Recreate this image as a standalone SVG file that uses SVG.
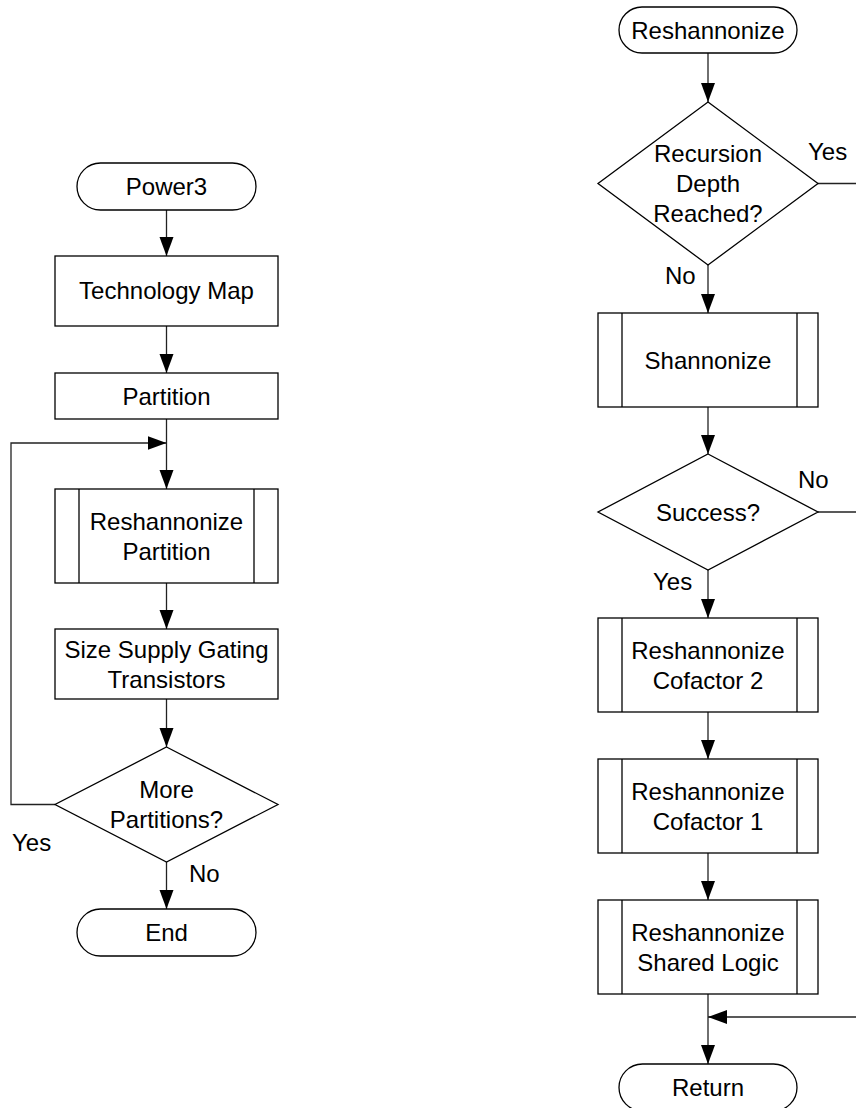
<svg xmlns="http://www.w3.org/2000/svg" width="856" height="1108" viewBox="0 0 856 1108">
<style>
.n{fill:#fff;stroke:#000;stroke-width:1.3}
.il{stroke:#000;stroke-width:1.3;fill:none}
.c{fill:none;stroke:#222;stroke-width:1.3}
text{font-family:"Liberation Sans",Arial,sans-serif;font-size:24px;fill:#000}
.m{text-anchor:middle}
</style>
<defs>
<marker id="ah" markerUnits="userSpaceOnUse" markerWidth="20" markerHeight="16" refX="19" refY="7.5" orient="auto">
<path d="M0,0.5 L19,7.5 L0,14.5 z" fill="#000"/>
</marker>
</defs>
<rect width="856" height="1108" fill="#fff"/>
<g id="connectors">
<line class="c" x1="166.5" y1="210" x2="166.5" y2="256" marker-end="url(#ah)"/>
<line class="c" x1="166.5" y1="326" x2="166.5" y2="373" marker-end="url(#ah)"/>
<line class="c" x1="166.5" y1="419" x2="166.5" y2="489" marker-end="url(#ah)"/>
<polyline class="c" points="55,804.5 11,804.5 11,443 166.5,443" marker-end="url(#ah)"/>
<line class="c" x1="166.5" y1="583" x2="166.5" y2="629" marker-end="url(#ah)"/>
<line class="c" x1="166.5" y1="699" x2="166.5" y2="747" marker-end="url(#ah)"/>
<line class="c" x1="166.5" y1="862" x2="166.5" y2="909" marker-end="url(#ah)"/>
<line class="c" x1="708" y1="53" x2="708" y2="102" marker-end="url(#ah)"/>
<line class="c" x1="708" y1="265" x2="708" y2="313" marker-end="url(#ah)"/>
<line class="c" x1="818" y1="183.5" x2="860" y2="183.5"/>
<line class="c" x1="708" y1="407" x2="708" y2="454" marker-end="url(#ah)"/>
<line class="c" x1="818" y1="512" x2="860" y2="512"/>
<line class="c" x1="708" y1="570" x2="708" y2="618" marker-end="url(#ah)"/>
<line class="c" x1="708" y1="712" x2="708" y2="759" marker-end="url(#ah)"/>
<line class="c" x1="708" y1="853" x2="708" y2="900" marker-end="url(#ah)"/>
<line class="c" x1="708" y1="994" x2="708" y2="1064" marker-end="url(#ah)"/>
<line class="c" x1="860" y1="1017" x2="708" y2="1017" marker-end="url(#ah)"/>
<text x="12" y="851">Yes</text>
<text x="189" y="882">No</text>
<text x="808" y="160">Yes</text>
<text x="665" y="284">No</text>
<text x="798" y="488">No</text>
<text x="653" y="590">Yes</text>
</g>
<g id="power3">
<rect class="n" x="77" y="163" width="179" height="47" rx="23.5"/>
<text class="m" x="166.5" y="195">Power3</text>
</g>
<g id="techmap">
<rect class="n" x="55" y="256" width="223" height="70"/>
<text class="m" x="166.5" y="299">Technology Map</text>
</g>
<g id="partition">
<rect class="n" x="55" y="373" width="223" height="46"/>
<text class="m" x="166.5" y="404.5">Partition</text>
</g>
<g id="reshPartition">
<rect class="n" x="55" y="489" width="223" height="94"/>
<line class="il" x1="79" y1="489" x2="79" y2="583"/>
<line class="il" x1="254" y1="489" x2="254" y2="583"/>
<text class="m" x="166.5" y="529.5">Reshannonize</text>
<text class="m" x="166.5" y="559.5">Partition</text>
</g>
<g id="sizeSupply">
<rect class="n" x="55" y="629" width="223" height="70"/>
<text class="m" x="166.5" y="657.5">Size Supply Gating</text>
<text class="m" x="166.5" y="687.5">Transistors</text>
</g>
<g id="morePartitions">
<polygon class="n" points="166.5,747 278,804.5 166.5,862 55,804.5"/>
<text class="m" x="166.5" y="798">More</text>
<text class="m" x="166.5" y="828">Partitions?</text>
</g>
<g id="end">
<rect class="n" x="77" y="909" width="179" height="47" rx="23.5"/>
<text class="m" x="166.5" y="941">End</text>
</g>
<g id="reshannonize">
<rect class="n" x="619" y="7" width="178" height="46" rx="23"/>
<text class="m" x="708" y="38.5">Reshannonize</text>
</g>
<g id="recursionDepth">
<polygon class="n" points="708,102 818,183.5 708,265 598,183.5"/>
<text class="m" x="708" y="162">Recursion</text>
<text class="m" x="708" y="192">Depth</text>
<text class="m" x="708" y="222">Reached?</text>
</g>
<g id="shannonize">
<rect class="n" x="598" y="313" width="220" height="94"/>
<line class="il" x1="622" y1="313" x2="622" y2="407"/>
<line class="il" x1="797" y1="313" x2="797" y2="407"/>
<text class="m" x="708" y="368.5">Shannonize</text>
</g>
<g id="success">
<polygon class="n" points="708,454 818,512 708,570 598,512"/>
<text class="m" x="708" y="520.5">Success?</text>
</g>
<g id="cofactor2">
<rect class="n" x="598" y="618" width="220" height="94"/>
<line class="il" x1="622" y1="618" x2="622" y2="712"/>
<line class="il" x1="797" y1="618" x2="797" y2="712"/>
<text class="m" x="708" y="658.5">Reshannonize</text>
<text class="m" x="708" y="688.5">Cofactor 2</text>
</g>
<g id="cofactor1">
<rect class="n" x="598" y="759" width="220" height="94"/>
<line class="il" x1="622" y1="759" x2="622" y2="853"/>
<line class="il" x1="797" y1="759" x2="797" y2="853"/>
<text class="m" x="708" y="799.5">Reshannonize</text>
<text class="m" x="708" y="829.5">Cofactor 1</text>
</g>
<g id="sharedLogic">
<rect class="n" x="598" y="900" width="220" height="94"/>
<line class="il" x1="622" y1="900" x2="622" y2="994"/>
<line class="il" x1="797" y1="900" x2="797" y2="994"/>
<text class="m" x="708" y="940.5">Reshannonize</text>
<text class="m" x="708" y="970.5">Shared Logic</text>
</g>
<g id="return">
<rect class="n" x="619" y="1064" width="178" height="47" rx="23.5"/>
<text class="m" x="708" y="1096">Return</text>
</g>
</svg>
